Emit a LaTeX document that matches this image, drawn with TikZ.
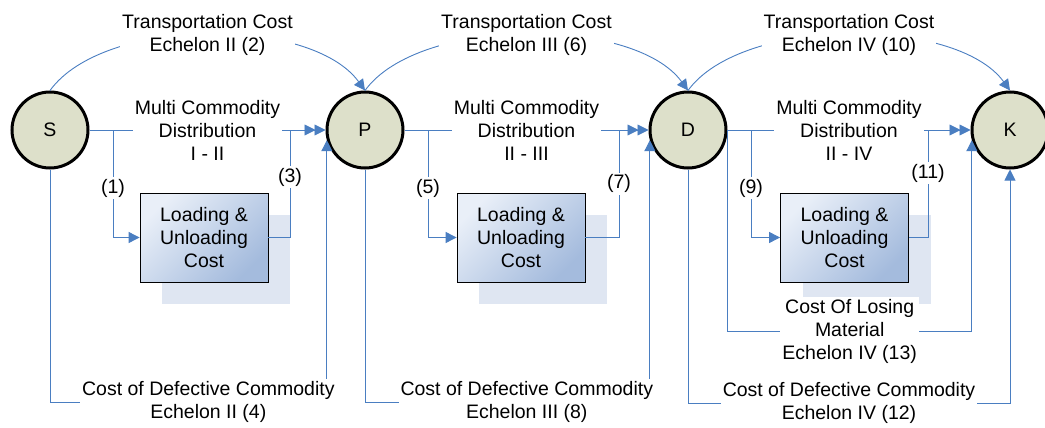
\documentclass[tikz,border=0pt]{standalone}
\usepackage{fontspec}
\setmainfont{Liberation Sans}
\usetikzlibrary{arrows.meta,shadows}
\definecolor{sitefill}{RGB}{221,224,202}
\definecolor{linkblue}{RGB}{74,126,193}
\definecolor{boxlight}{RGB}{233,239,248}
\definecolor{boxdark}{RGB}{164,187,221}
\definecolor{shadowblue}{RGB}{223,230,242}
\tikzset{>={Triangle[length=11pt,width=11pt]}}
\tikzset{
    site/.style={circle, draw=black, line width=3pt, fill=sitefill, minimum size=76pt, inner sep=0pt},
    costbox/.style={rectangle, draw=black, line width=0.8pt, minimum width=128pt, minimum height=89pt, align=center,
        top color=boxlight, bottom color=boxdark, shading angle=45,
        drop shadow={shadow xshift=22pt, shadow yshift=-22pt, fill=shadowblue, opacity=1}},
    conn/.style={linkblue, line width=0.9pt},
    lbl/.style={fill=white, inner sep=2pt, align=center, text=black}
}

\begin{document}
\begin{tikzpicture}[x=1pt, y=-1pt, font=\fontsize{19.5}{23}\selectfont]
    \useasboundingbox (0,0) rectangle (1045,428);
    % echelon sites
    \node[site] (S) at (50,130) {S};
    \node[site] (P) at (365,130) {P};
    \node[site] (D) at (688,130) {D};
    \node[site] (K) at (1010,130) {K};
    % loading boxes
    \node[costbox] (L1) at (204,237.5) {Loading \&\\Unloading\\Cost};
    \node[costbox] (L2) at (521,237.5) {Loading \&\\Unloading\\Cost};
    \node[costbox] (L3) at (844.5,237.5) {Loading \&\\Unloading\\Cost};
    % branch points
    \coordinate (b1) at (113,130);
    \coordinate (b3) at (290,130);
    \coordinate (b5) at (428,130);
    \coordinate (b7) at (619,130);
    \coordinate (b9) at (751,130);
    \coordinate (b11) at (928,130);
    \coordinate (low1) at (0,402);
    \coordinate (low2) at (0,403);
    \coordinate (low3) at (0,331);

    % transportation cost
    \draw[conn,->] (S.north) .. controls (104,16) and (311,16) .. node[lbl] {Transportation Cost\\Echelon II (2)} (P.north);
    \draw[conn,->] (P.north) .. controls (419,16) and (634,16) .. node[lbl] {Transportation Cost\\Echelon III (6)} (D.north);
    \draw[conn,->] (D.north) .. controls (742,16) and (956,16) .. node[lbl] {Transportation Cost\\Echelon IV (10)} (K.north);

    % multi commodity distribution
    \draw[conn,->] (S.east) -- node[lbl] {Multi Commodity\\Distribution\\I - II} (P.west);
    \draw[conn,->] (P.east) -- node[lbl] {Multi Commodity\\Distribution\\II - III} (D.west);
    \draw[conn,->] (D.east) -- node[lbl] {Multi Commodity\\Distribution\\II - IV} (K.west);

    % loading and unloading
    \draw[conn,->] (b1) |- node[lbl, pos=0.27] {(1)} (L1.west);
    \draw[conn,->,shorten >=10pt] (L1.east) -| node[lbl, pos=0.78] {(3)} (b3) -- (P.west);
    \draw[conn,->] (b5) |- node[lbl, pos=0.27] {(5)} (L2.west);
    \draw[conn,->,shorten >=10pt] (L2.east) -| node[lbl, pos=0.75] {(7)} (b7) -- (D.west);
    \draw[conn,->] (b9) |- node[lbl, pos=0.27] {(9)} (L3.west);
    \draw[conn,->,shorten >=10pt] (L3.east) -| node[lbl, pos=0.8] {(11)} (b11) -- (K.west);

    % losing material
    \draw[conn,->] (D.east) |- node[lbl, pos=0.75] {Cost Of Losing\\Material\\Echelon IV (13)} (low3 -| K.195) -- (K.195);

    % defective commodity
    \draw[conn,->] (S.south) |- node[lbl, pos=0.786] {Cost of Defective Commodity\\Echelon II (4)} (low1 -| P.195) -- (P.195);
    \draw[conn,->] (P.south) |- node[lbl, pos=0.784] {Cost of Defective Commodity\\Echelon III (8)} (low1 -| D.195) -- (D.195);
    \draw[conn,->] (D.south) |- node[lbl, pos=0.75] {Cost of Defective Commodity\\Echelon IV (12)} (low2 -| K.south) -- (K.south);
\end{tikzpicture}
\end{document}
